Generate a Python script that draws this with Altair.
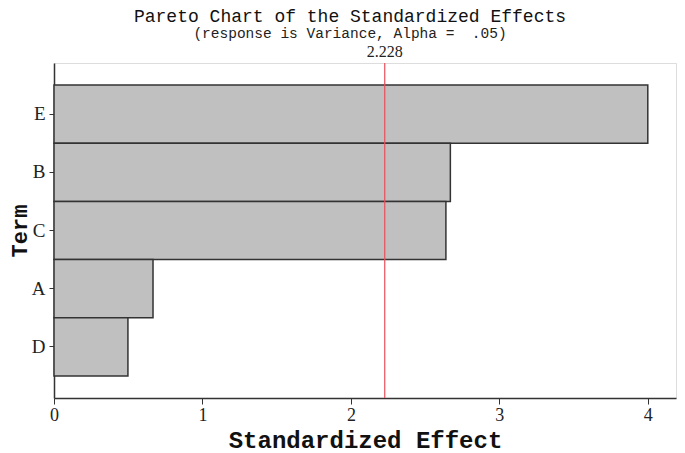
import altair as alt
import pandas as pd

terms = ["E", "B", "C", "A", "D"]
effects = [4.0, 2.67, 2.64, 0.667, 0.498]
critical = 2.228
x_ticks = [0, 1, 2, 3, 4]

df = pd.DataFrame({"Term": terms, "Effect": effects})
ref = pd.DataFrame({"v": [critical], "lbl": ["2.228"]})

xscale = alt.Scale(domain=[0, 4.19], nice=False, zero=True)

bars = alt.Chart(df).mark_bar(
    color="#c0c0c0", stroke="#333333", strokeWidth=1.5
).encode(
    x=alt.X("Effect:Q", scale=xscale, title="Standardized Effect",
            axis=alt.Axis(values=x_ticks, format="d", labelFlush=False, grid=False,
                          tickSize=6, tickColor="#333333", domainColor="#333333",
                          domainWidth=1.5, labelFont="Liberation Serif", labelFontSize=18,
                          labelColor="#222222", labelPadding=2,
                          titleFont="Liberation Mono", titleFontSize=24, titleFontWeight="bold",
                          titleColor="#111111", titleBaseline="alphabetic", titleY=49)),
    y=alt.Y("Term:N", sort=terms, title="Term",
            scale=alt.Scale(paddingInner=0, paddingOuter=0.38),
            axis=alt.Axis(tickSize=5, tickColor="#333333", domainColor="#333333",
                          domainWidth=1.5, labelFont="Liberation Serif", labelFontSize=19,
                          labelColor="#222222", labelPadding=4, labelAngle=0,
                          titleFont="Liberation Mono", titleFontSize=22, titleFontWeight="bold",
                          titleColor="#111111", titleBaseline="middle", titleX=-35)),
)

rule = alt.Chart(ref).mark_rule(color="#e8505a", strokeWidth=1.2).encode(
    x=alt.X("v:Q", scale=xscale),
    y=alt.value(0), y2=alt.value(335),
)

label = alt.Chart(ref).mark_text(
    font="Liberation Serif", fontSize=16, baseline="bottom", dy=-3, color="#222222"
).encode(
    x=alt.X("v:Q", scale=xscale),
    y=alt.value(0),
    text="lbl:N",
)

chart = alt.layer(bars, rule, label).properties(
    width=622, height=335,
    autosize=alt.AutoSizeParams(type="none"),
    padding={"left": 46, "top": 55, "right": 1, "bottom": 55},
    title=alt.Title(
        "Pareto Chart of the Standardized Effects",
        subtitle="(response is Variance, Alpha =\u00a0 .05)",
        font="Liberation Mono", fontSize=18, fontWeight="normal", color="#111111",
        subtitleFont="Liberation Mono", subtitleFontSize=14.5, subtitleColor="#222222",
        subtitlePadding=1, offset=4, anchor="middle", dx=-15,
    ),
).configure_view(stroke="#333333", strokeWidth=1.5).configure(background="white")

chart.save("out.html", embed_options={"renderer": "svg", "actions": False})
